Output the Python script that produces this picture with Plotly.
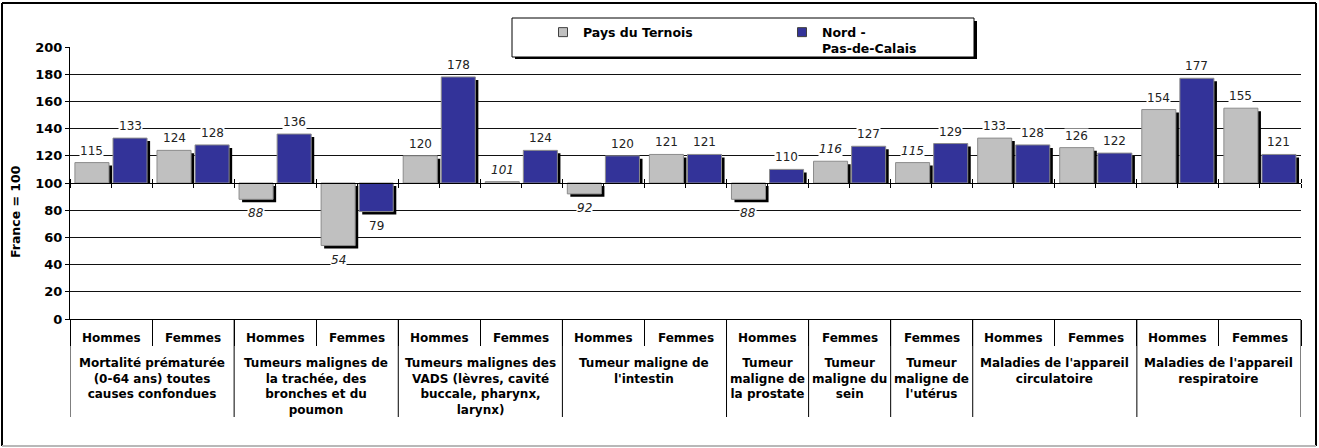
import plotly.graph_objects as go

# ---------------- data ----------------
groups = [
    "Mortalité prématurée<br>(0-64 ans) toutes<br>causes confondues",
    "Tumeurs malignes de<br>la trachée, des<br>bronches et du<br>poumon",
    "Tumeurs malignes des<br>VADS (lèvres, cavité<br>buccale, pharynx,<br>larynx)",
    "Tumeur maligne de<br>l'intestin",
    "Tumeur<br>maligne de<br>la prostate",
    "Tumeur<br>maligne du<br>sein",
    "Tumeur<br>maligne de<br>l'utérus",
    "Maladies de l'appareil<br>circulatoire",
    "Maladies de l'appareil<br>respiratoire",
]
group_of = [0, 0, 1, 1, 2, 2, 3, 3, 4, 5, 6, 7, 7, 8, 8]
sexes = ["Hommes", "Femmes", "Hommes", "Femmes", "Hommes", "Femmes", "Hommes", "Femmes",
         "Hommes", "Femmes", "Femmes", "Hommes", "Femmes", "Hommes", "Femmes"]
ternois = [115, 124, 88, 54, 120, 101, 92, 121, 88, 116, 115, 133, 126, 154, 155]
npdc = [133, 128, 136, 79, 178, 124, 120, 121, 110, 127, 129, 128, 122, 177, 121]
ternois_italic = [False, False, True, True, False, True, True, False, True, True, True,
                  False, False, False, False]
npdc_italic = [False] * 15
y_ticks = [0, 20, 40, 60, 80, 100, 120, 140, 160, 180, 200]
REF = 100
series_names = ["Pays du Ternois", "Nord -<br>Pas-de-Calais"]
y_title = "France = 100"

# ---------------- style ----------------
FONT = "Verdana, DejaVu Sans, sans-serif"
C_T = "#C0C0C0"
C_N = "#333399"
EDGE = "#8c8c8c"
W = 0.415
OFF_T = -0.44
OFF_N = 0.024
SHX = 0.037   # shadow offset (category units)
SHY = 2.2     # shadow offset (value units)

# layout geometry (pixels)
FIG_W, FIG_H = 1319, 448
ML, MR, MT, MB = 70, 18, 47, 129
PW = FIG_W - ML - MR
PH = FIG_H - MT - MB


def px_x(X):
    return (X - ML) / PW


def px_y(Y):
    return (FIG_H - MB - Y) / PH


n = len(sexes)
xs = list(range(n))
ymin, ymax = y_ticks[0], y_ticks[-1]

fig = go.Figure()


def shadow_parts(vals):
    bases, heights = [], []
    for v in vals:
        if v >= REF:
            bases.append(REF)
            heights.append(max(v - SHY - REF, 0))
        else:
            bases.append(REF - SHY)
            heights.append(v - REF)
    return bases, heights


# shadows
for vals, off in ((ternois, OFF_T), (npdc, OFF_N)):
    b, h = shadow_parts(vals)
    fig.add_trace(go.Bar(
        x=xs, y=h, base=b, offset=off + SHX, width=W,
        marker=dict(color="black", line=dict(width=0)),
        showlegend=False, hoverinfo="skip",
    ))

# main bars
for vals, off, col, name in ((ternois, OFF_T, C_T, series_names[0]),
                             (npdc, OFF_N, C_N, series_names[1])):
    fig.add_trace(go.Bar(
        x=xs, y=[v - REF for v in vals], base=[REF] * n,
        offset=off, width=W, name=name, showlegend=False,
        marker=dict(color=col, line=dict(color=EDGE, width=1)),
    ))

# legend entries
for col, name in ((C_T, series_names[0]), (C_N, series_names[1])):
    fig.add_trace(go.Scatter(
        x=[None], y=[None], mode="markers", name=name,
        marker=dict(symbol="square", size=9, color=col, line=dict(color="#404040", width=1)),
    ))

# helper traces for overlay axes at the reference line
fig.add_trace(go.Scatter(x=[None], y=[None], xaxis="x2", yaxis="y", showlegend=False, hoverinfo="skip"))
fig.add_trace(go.Scatter(x=[None], y=[None], xaxis="x3", yaxis="y", showlegend=False, hoverinfo="skip"))

annotations = []
# value labels
for vals, ital, off in ((ternois, ternois_italic, OFF_T), (npdc, npdc_italic, OFF_N)):
    for i, v in enumerate(vals):
        up = v >= REF
        annotations.append(dict(
            x=xs[i] + off + W / 2, xref="x", y=v, yref="y",
            text=f"<i>{v}</i>" if ital[i] else str(v),
            showarrow=False, yanchor="bottom" if up else "top",
            yshift=4 if up else -6, bgcolor="white", borderpad=0,
            font=dict(family=FONT, size=12, color="#222222"),
        ))

# category table labels
LBL_FONT = dict(family=FONT, size=12, color="black", weight="bold")
for i, s in enumerate(sexes):
    annotations.append(dict(
        x=xs[i], xref="x", y=px_y(338), yref="paper", text=s, showarrow=False,
        yanchor="middle", font=LBL_FONT,
    ))
for g, label in enumerate(groups):
    members = [xs[i] for i in range(n) if group_of[i] == g]
    annotations.append(dict(
        x=sum(members) / len(members), xref="x", y=px_y(354), yref="paper",
        text=label, showarrow=False, yanchor="top", align="center", font=LBL_FONT,
    ))

# y axis title
annotations.append(dict(
    x=px_x(15), xref="paper", y=px_y(212), yref="paper", text=y_title, textangle=-90,
    showarrow=False, xanchor="center", yanchor="middle",
    font=dict(family=FONT, size=12.5, color="black", weight="bold"),
))

# group dividers in the category table
shapes = []
div_pos = sorted({min(xs[i] for i in range(n) if group_of[i] == g) - 0.5 for g in range(len(groups))}
                 | {xs[-1] + 0.5})
for p in div_pos:
    shapes.append(dict(type="line", xref="x", yref="paper", x0=p, x1=p, y0=0, y1=px_y(417),
                       line=dict(color="black", width=1)))

# frame and legend box
shapes += [
    dict(type="line", xref="paper", yref="paper", x0=px_x(2), x1=px_x(1316), y0=px_y(3), y1=px_y(3),
         line=dict(color="black", width=2)),
    dict(type="line", xref="paper", yref="paper", x0=px_x(2), x1=px_x(2), y0=px_y(3), y1=px_y(446),
         line=dict(color="black", width=2)),
    dict(type="line", xref="paper", yref="paper", x0=px_x(1316), x1=px_x(1316), y0=px_y(3), y1=px_y(446),
         line=dict(color="black", width=2)),
    dict(type="line", xref="paper", yref="paper", x0=px_x(2), x1=px_x(1316), y0=px_y(446), y1=px_y(446),
         line=dict(color="#b8b8b8", width=2)),
    dict(type="rect", xref="paper", yref="paper", x0=px_x(515), x1=px_x(977), y0=px_y(21), y1=px_y(59),
         fillcolor="black", line=dict(width=0)),
    dict(type="rect", xref="paper", yref="paper", x0=px_x(512), x1=px_x(974), y0=px_y(18), y1=px_y(57),
         fillcolor="white", line=dict(color="black", width=1)),
]

ref_pos = (REF - ymin) / (ymax - ymin)
bounds = [k - 0.5 for k in range(n + 1)]
halves = [k / 2 - 0.5 for k in range(2 * n + 1)]

fig.update_layout(
    width=FIG_W, height=FIG_H,
    margin=dict(l=ML, r=MR, t=MT, b=MB, pad=0),
    paper_bgcolor="white", plot_bgcolor="white",
    barmode="overlay",
    font=dict(family=FONT, size=12, color="black"),
    showlegend=True,
    legend=dict(
        orientation="h", x=px_x(543), y=px_y(17.5), xanchor="left", yanchor="top",
        bgcolor="rgba(0,0,0,0)", borderwidth=0, valign="top",
        entrywidth=194, entrywidthmode="pixels", itemwidth=30,
        font=dict(family=FONT, size=12.5, color="black", weight="bold"),
        traceorder="normal",
    ),
    xaxis=dict(
        range=[-0.5, n - 0.5], tickvals=bounds, showticklabels=False,
        showline=True, linecolor="black", linewidth=1,
        ticks="outside", ticklen=26, tickcolor="black",
        showgrid=False, zeroline=False,
    ),
    xaxis2=dict(
        overlaying="x", anchor="free", position=ref_pos, range=[-0.5, n - 0.5],
        tickvals=halves, ticks="outside", ticklen=4, tickcolor="black",
        showticklabels=False, showgrid=False, zeroline=False,
        showline=True, linecolor="black", linewidth=1,
    ),
    xaxis3=dict(
        overlaying="x", anchor="free", position=ref_pos, side="top", range=[-0.5, n - 0.5],
        tickvals=bounds, ticks="outside", ticklen=4, tickcolor="black",
        showticklabels=False, showgrid=False, zeroline=False, showline=False,
    ),
    yaxis=dict(
        range=[ymin, ymax], tickvals=y_ticks,
        showgrid=True, gridcolor="#111111", gridwidth=1,
        showline=True, linecolor="black", linewidth=1,
        ticks="outside", ticklen=4, tickcolor="black",
        zeroline=False,
        tickfont=dict(family=FONT, size=13, color="black", weight="bold"),
    ),
    annotations=annotations,
    shapes=shapes,
)

fig.write_html(
    "out.html",
    config={"displayModeBar": False},
    post_script="document.body.style.margin='0px';document.body.style.overflow='hidden';",
)
